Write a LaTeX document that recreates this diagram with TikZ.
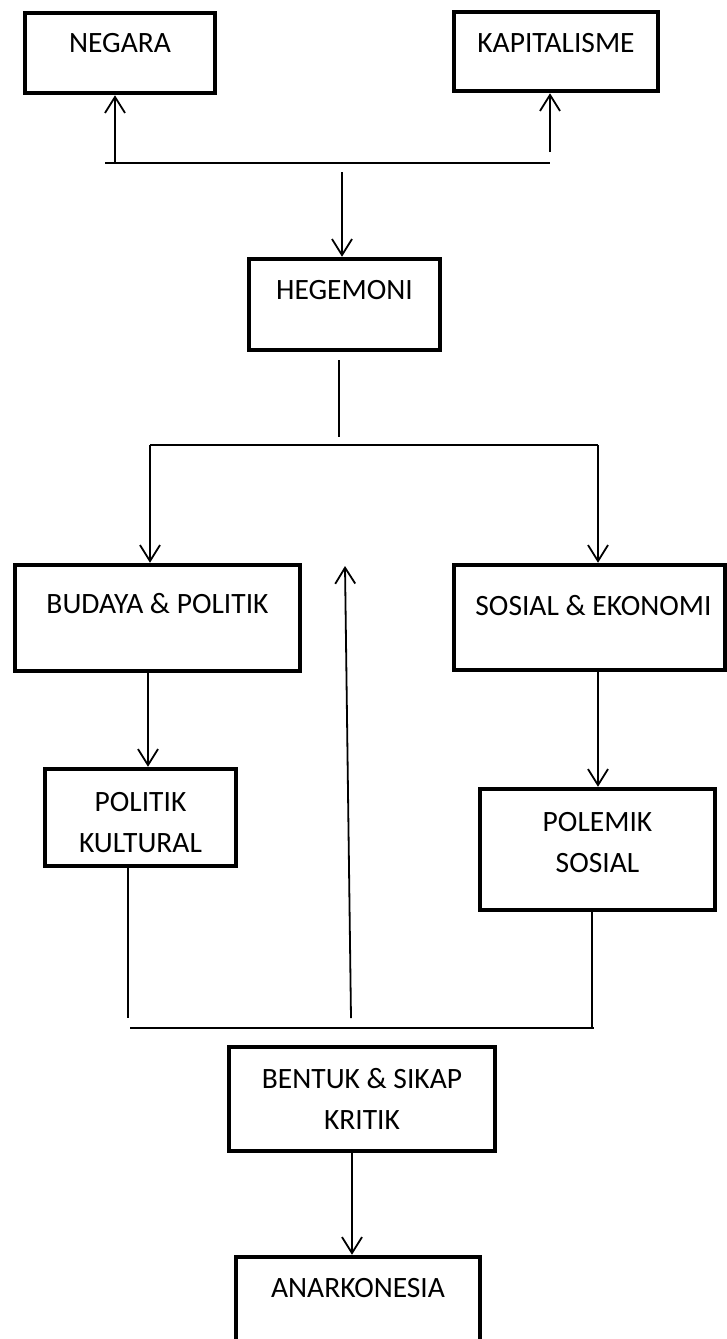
\documentclass[tikz,border=0pt]{standalone}
\usepackage{fontspec}
\setmainfont{Carlito}
\usetikzlibrary{arrows.meta}
\begin{document}
\begin{tikzpicture}[x=1pt,y=-1pt,
  box/.style={draw, line width=4.5pt, rectangle, inner sep=0pt},
  txt/.style={anchor=north, inner sep=0pt, align=center, font=\fontsize{29.5}{41}\selectfont},
  conn/.style={line width=1.8pt},
  hconn/.style={line width=2.6pt},
  arr/.style={conn, -{Straight Barb[length=16pt,width=20pt]}},
]
\useasboundingbox (0,0) rectangle (727,1339);

% boxes
\node[box, minimum width=190pt, minimum height=80pt, label={[txt, yshift=-22pt]north:NEGARA}] (neg) at (120,53) {};
\node[box, minimum width=204pt, minimum height=79pt, label={[txt, yshift=-23pt]north:KAPITALISME}] (kap) at (556,51.5) {};
\node[box, minimum width=191pt, minimum height=91pt, label={[txt, yshift=-23pt]north:HEGEMONI}] (heg) at (344.5,304.5) {};
\node[box, minimum width=285pt, minimum height=106pt, label={[txt, yshift=-30pt]north:BUDAYA \& POLITIK}] (bud) at (157.5,618) {};
\node[box, minimum width=271pt, minimum height=105pt, label={[txt, yshift=-32pt, xshift=4pt]north:SOSIAL \& EKONOMI}] (sos) at (589.5,617.5) {};
\node[box, minimum width=191pt, minimum height=97pt, label={[txt, yshift=-25pt]north:POLITIK\\KULTURAL}] (pk) at (140.5,817.5) {};
\node[box, minimum width=235pt, minimum height=121pt, label={[txt, yshift=-25pt]north:POLEMIK\\SOSIAL}] (pol) at (597.5,849.5) {};
\node[box, minimum width=266pt, minimum height=104pt, label={[txt, yshift=-23pt]north:BENTUK \& SIKAP\\KRITIK}] (ben) at (362,1099) {};
\node[box, minimum width=244pt, minimum height=101pt, label={[txt, yshift=-23pt]north:ANARKONESIA}] (ana) at (358,1307.5) {};

% top junction
\coordinate (tl) at (105,163);
\coordinate (tr) at (550,163);
\draw[hconn] (tl) -- (tr);
\coordinate (a1) at (115,163);
\draw[arr] (a1) -- (a1 |- neg.south);
\coordinate (a2) at (550,152);
\draw[arr] (a2) -- (a2 |- kap.south);
\coordinate (a3) at (342,172);
\draw[arr] (a3) -- (a3 |- heg.north);

% hegemoni split
\coordinate (h2) at (339,437);
\draw[conn] ([yshift=-8pt]heg.south -| h2) -- (h2);
\coordinate (ml) at (150,445);
\coordinate (mr) at (598,445);
\draw[hconn] (ml) -- (mr);
\draw[arr] (ml) -- (ml |- bud.north);
\draw[arr] (mr) -- (mr |- sos.north);

% second level
\coordinate (b1) at (148,700);
\draw[arr] (bud.south -| b1) -- (pk.north -| b1);
\coordinate (b2) at (598,700);
\draw[arr] (sos.south -| b2) -- (pol.north -| b2);

% bottom junction
\coordinate (pkend) at (128,1018);
\draw[conn] (pk.south -| pkend) -- (pkend);
\coordinate (polend) at (592,1028);
\draw[conn] ([yshift=4pt]pol.south -| polend) -- (polend);
\coordinate (bl) at (130,1028);
\coordinate (br) at (594,1028);
\draw[conn] (bl) -- (br);
\coordinate (ms) at (351,1018);
\coordinate (mt) at (345,566);
\draw[arr] (ms) -- (mt);

% last arrow
\coordinate (c4) at (352,1200);
\draw[arr] (ben.south -| c4) -- (ana.north -| c4);
\end{tikzpicture}
\end{document}
